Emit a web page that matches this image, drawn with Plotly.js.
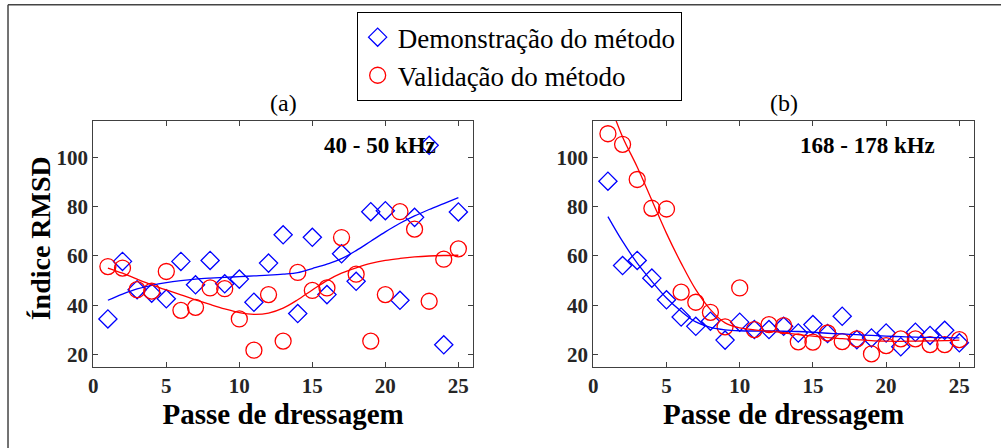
<!DOCTYPE html>
<html>
<head>
<meta charset="utf-8">
<script src="https://cdn.plot.ly/plotly-3.0.1.min.js"></script>
<style>html,body{margin:0;padding:0;background:#fff;}#chart{width:1001px;height:448px;}</style>
</head>
<body>
<div id="chart"></div>
<script>
// ---- data ----
const passes = [1,2,3,4,5,6,7,8,9,10,11,12,13,14,15,16,17,18,19,20,21,22,23,24,25];

// (a) 40 - 50 kHz
const demoA = [34.4,57.8,46.3,44.9,42.6,57.8,48.3,58.2,48.7,50.6,41.2,57.1,68.6,36.6,67.6,44.3,60.9,49.7,78.0,78.4,42.0,75.7,105.0,23.9,77.9];
const valA  = [55.7,55.1,46.3,45.7,53.7,37.9,39.1,47.0,46.7,34.4,21.7,44.3,25.4,53.3,46.0,47.0,67.5,52.6,25.4,44.3,78.0,70.9,41.6,58.7,62.9];
const demoFitA = [42.0,44.5,46.6,48.1,49.2,50.0,50.6,51.0,51.3,51.6,51.9,52.2,52.6,53.2,54.9,56.7,58.9,62.2,66.0,69.8,73.3,76.3,78.9,81.3,83.7];
const valFitA  = [55.1,53.0,50.6,48.3,46.2,44.2,42.2,40.3,38.5,37.0,36.3,36.8,38.8,42.2,46.2,50.0,53.0,55.2,57.0,58.2,59.0,59.6,60.0,60.2,60.3];

// (b) 168 - 178 kHz
const demoB = [90.4,56.1,58.2,51.0,42.2,35.2,31.4,33.5,25.8,33.1,30.1,30.1,31.4,28.7,32.1,28.5,35.5,26.0,26.7,28.7,23.1,29.0,27.7,29.8,24.7];
const valB  = [109.7,105.4,91.1,79.4,79.1,45.3,41.2,37.1,31.2,47.0,30.1,32.1,31.7,25.1,25.0,28.7,25.2,26.3,20.2,23.6,26.3,26.3,24.0,24.0,26.0];
const demoFitB = [76.0,65.9,57.1,49.7,42.9,37.5,33.2,31.0,30.0,29.6,29.5,29.5,29.4,29.3,29.0,28.6,28.3,28.0,27.7,27.4,27.2,27.0,26.9,26.8,26.7];
const valFitB  = [124.0,108.4,96.2,82.7,69.2,57.1,46.3,38.2,32.8,30.8,30.0,29.4,28.8,28.0,27.4,26.8,26.4,26.0,25.6,25.4,25.3,25.4,25.5,25.6,25.8];

const xTicks = [0,5,10,15,20,25];
const yTicks = [20,40,60,80,100];
const legendNames = ['Demonstração do método','Validação do método'];
const panelTitles = ['(a)','(b)'];
const bandLabels = ['40 - 50 kHz','168 - 178 kHz'];
const xTitle = 'Passe de dressagem';
const yTitle = 'Índice RMSD';

// ---- styles ----
const BLUE = '#0000ff', RED = '#ff0000';
const SERIF = 'Liberation Serif';
const diamond = {symbol:'diamond-open', size:14, color:BLUE, line:{color:BLUE, width:1.3}};
const circle = {symbol:'circle-open', size:16, color:RED, line:{color:RED, width:1.3}};

const traces = [
  {x:passes, y:demoA, mode:'markers', marker:diamond, name:legendNames[0], xaxis:'x', yaxis:'y', legendgroup:'d'},
  {x:passes, y:valA, mode:'markers', marker:circle, name:legendNames[1], xaxis:'x', yaxis:'y', legendgroup:'v'},
  {x:passes, y:demoFitA, mode:'lines', line:{color:BLUE, width:1.3, shape:'spline'}, showlegend:false, xaxis:'x', yaxis:'y', hoverinfo:'skip'},
  {x:passes, y:valFitA, mode:'lines', line:{color:RED, width:1.3, shape:'spline'}, showlegend:false, xaxis:'x', yaxis:'y', hoverinfo:'skip'},
  {x:passes, y:demoB, mode:'markers', marker:diamond, name:legendNames[0], showlegend:false, xaxis:'x2', yaxis:'y2', legendgroup:'d'},
  {x:passes, y:valB, mode:'markers', marker:circle, name:legendNames[1], showlegend:false, xaxis:'x2', yaxis:'y2', legendgroup:'v'},
  {x:passes, y:demoFitB, mode:'lines', line:{color:BLUE, width:1.3, shape:'spline'}, showlegend:false, xaxis:'x2', yaxis:'y2', hoverinfo:'skip'},
  {x:passes, y:valFitB, mode:'lines', line:{color:RED, width:1.3, shape:'spline'}, showlegend:false, xaxis:'x2', yaxis:'y2', hoverinfo:'skip'}
];

const tickFont = {family:SERIF, size:21, color:'#262626', weight:'bold'};
function xAxis(domain, anchor){
  return {domain:domain, anchor:anchor, range:[0,26], tickvals:xTicks, ticktext:xTicks.map(String),
    ticks:'inside', ticklen:5, tickcolor:'#404040', mirror:'allticks', showline:true, linecolor:'#404040', linewidth:1,
    showgrid:false, zeroline:false, tickfont:tickFont,
    title:{text:xTitle, font:{family:SERIF, size:29, color:'#000', weight:'bold'}, standoff:6}};
}
function yAxis(domain, anchor){
  return {domain:domain, anchor:anchor, range:[15,115], tickvals:yTicks, ticktext:yTicks.map(String),
    ticks:'inside', ticklen:5, tickcolor:'#404040', mirror:'allticks', showline:true, linecolor:'#404040', linewidth:1,
    showgrid:false, zeroline:false, tickfont:tickFont};
}

const yDom = [0.1815, 0.7306];
const layout = {
  width:1001, height:448,
  margin:{l:0, r:0, t:0, b:0},
  paper_bgcolor:'#fff', plot_bgcolor:'#fff',
  font:{family:SERIF, color:'#000'},
  xaxis: xAxis([0.0932,0.4725],'y'),
  yaxis: yAxis(yDom,'x'),
  xaxis2: xAxis([0.5927,0.973],'y2'),
  yaxis2: yAxis(yDom,'x2'),
  showlegend:true,
  legend:{x:0.3563, y:0.973, xanchor:'left', yanchor:'top', bgcolor:'#fff', bordercolor:'#000', borderwidth:1,
    font:{family:SERIF, size:27, color:'#000'}, tracegroupgap:0, itemsizing:'trace'},
  annotations:[
    {text:yTitle, xref:'paper', yref:'paper', x:40/1001, y:0.468, xanchor:'center', yanchor:'middle', textangle:-90, showarrow:false, font:{family:SERIF, size:28, color:'#000', weight:'bold'}},
    {text:panelTitles[0], xref:'paper', yref:'paper', x:(0.0932+0.4725)/2, y:0.77, xanchor:'center', yanchor:'middle', showarrow:false, font:{family:SERIF, size:24, color:'#000'}},
    {text:panelTitles[1], xref:'paper', yref:'paper', x:(0.5927+0.973)/2, y:0.77, xanchor:'center', yanchor:'middle', showarrow:false, font:{family:SERIF, size:24, color:'#000'}},
    {text:bandLabels[0], xref:'x', yref:'y', x:19.64, y:105, xanchor:'center', yanchor:'middle', showarrow:false, font:{family:SERIF, size:23, color:'#000', weight:'bold'}},
    {text:bandLabels[1], xref:'x2', yref:'y2', x:18.7, y:105, xanchor:'center', yanchor:'middle', showarrow:false, font:{family:SERIF, size:23, color:'#000', weight:'bold'}}
  ],
  shapes:[
    {type:'line', xref:'paper', yref:'paper', x0:0.008, x1:0.008, y0:0, y1:0.9895, line:{color:'#444', width:1.5}},
    {type:'line', xref:'paper', yref:'paper', x0:0.008, x1:1, y0:0.9895, y1:0.9895, line:{color:'#444', width:1.5}}
  ]
};

Plotly.newPlot('chart', traces, layout, {staticPlot:true, displayModeBar:false});
</script>
</body>
</html>
